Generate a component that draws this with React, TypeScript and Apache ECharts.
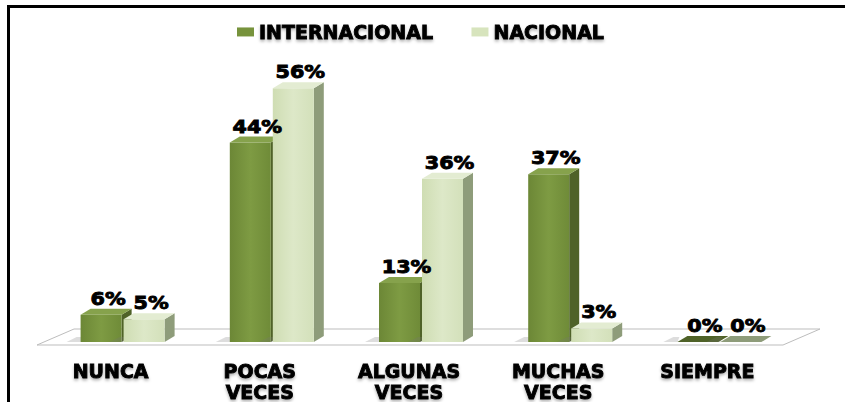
import React, { useEffect, useRef } from "react";
import * as echarts from "echarts";

const categories = ["NUNCA", "POCAS\nVECES", "ALGUNAS\nVECES", "MUCHAS\nVECES", "SIEMPRE"];
const seriesNames = ["INTERNACIONAL", "NACIONAL"];
const internacional = [6, 44, 13, 37, 0];
const nacional = [5, 56, 36, 3, 0];

const palettes = [
  { front: ["#6C8736", "#7E9B43", "#6F8B38"], side: "#4F6228", top: "#86A24C", legend: "#77933C" },
  { front: ["#CFDDB3", "#DDE8C8", "#D3E0BA"], side: "#8E9C7A", top: "#E3ECD2", legend: "#D7E4BD" },
];

const BAR_W = 41;
const GAP = 2;
const DX = 10;
const DY = -6;
const FONT = '"DejaVu Sans", Verdana, sans-serif';

const heavyText = {
  textBorderColor: "#000",
  textBorderWidth: 0.9,
  textShadowColor: "rgba(0,0,0,0.3)",
  textShadowBlur: 3,
  textShadowOffsetY: 2,
};

function barX(api: any, idx: number, s: number) {
  const cx = api.coord([idx, 0])[0];
  return s === 0 ? cx - GAP / 2 - BAR_W : cx + GAP / 2;
}

function makeBarRender(s: number) {
  const p = palettes[s];
  return (params: any, api: any) => {
    const idx = api.value(0);
    const val = api.value(1);
    const yBase = api.coord([idx, 0])[1];
    const yTop = api.coord([idx, val])[1];
    const x0 = barX(api, idx, s);
    const grad = new echarts.graphic.LinearGradient(0, 0, 1, 0, [
      { offset: 0, color: p.front[0] },
      { offset: 0.5, color: p.front[1] },
      { offset: 1, color: p.front[2] },
    ]);
    return {
      type: "group",
      children: [
        {
          type: "polygon",
          shape: {
            points: [
              [x0 - 14, yBase],
              [x0 - 4, yBase - 5],
              [x0 + 2, yBase - 5],
              [x0, yBase],
            ],
          },
          style: { fill: "rgba(120,120,120,0.25)" },
        },
        {
          type: "polygon",
          shape: {
            points: [
              [x0 + BAR_W, yTop],
              [x0 + BAR_W + DX, yTop + DY],
              [x0 + BAR_W + DX, yBase + DY],
              [x0 + BAR_W, yBase],
            ],
          },
          style: { fill: p.side },
        },
        {
          type: "rect",
          shape: { x: x0, y: yTop, width: BAR_W, height: Math.max(0, yBase - yTop) },
          style: { fill: grad },
        },
        {
          type: "polygon",
          shape: {
            points: [
              [x0, yTop],
              [x0 + DX, yTop + DY],
              [x0 + BAR_W + DX, yTop + DY],
              [x0 + BAR_W, yTop],
            ],
          },
          style: { fill: val === 0 ? p.side : p.top },
        },
      ],
    };
  };
}

function makeLabelRender(s: number) {
  return (params: any, api: any) => {
    const idx = api.value(0);
    const val = api.value(1);
    const yTop = api.coord([idx, val])[1];
    const x0 = barX(api, idx, s);
    return {
      type: "text",
      x: x0 + BAR_W / 2 + 7,
      y: yTop - 7,
      scaleX: 1.15,
      style: {
        text: val + "%",
        align: "center",
        verticalAlign: "bottom",
        fontFamily: FONT,
        fontWeight: "bold",
        fontSize: 18,
        fill: "#000",
        stroke: "#000",
        lineWidth: 0.9,
        shadowColor: "rgba(0,0,0,0.3)",
        shadowBlur: 3,
        shadowOffsetY: 2,
      },
    };
  };
}

function floorRender(params: any, api: any) {
  const cs = params.coordSys;
  const yb = cs.y + cs.height;
  return {
    type: "polygon",
    shape: {
      points: [
        [cs.x - 11, yb + 3],
        [cs.x + cs.width - 11, yb + 3],
        [cs.x + cs.width + 26, yb - 13],
        [cs.x + 26, yb - 13],
      ],
    },
    style: { fill: "#FFFFFF", stroke: "#BDBDBD", lineWidth: 1 },
  };
}

export default function App() {
  const ref = useRef<HTMLDivElement>(null);
  useEffect(() => {
    document.body.style.margin = "0";
    document.body.style.overflow = "hidden";
    const chart = echarts.init(ref.current!, null, { renderer: "svg" });
    const dataSets = [internacional, nacional];
    chart.setOption({
      animation: false,
      backgroundColor: "#FFFFFF",
      grid: { left: 48, right: 51, top: 70, bottom: 58 },
      legend: {
        data: seriesNames,
        icon: "rect",
        itemWidth: 17,
        itemHeight: 9,
        itemGap: 38,
        top: 17,
        left: 232,
        textStyle: { fontFamily: FONT, fontWeight: "bold", fontSize: 19, color: "#000", ...heavyText },
      },
      xAxis: {
        type: "category",
        data: categories,
        axisLine: { show: false },
        axisTick: { show: false },
        axisLabel: {
          interval: 0,
          fontFamily: FONT,
          fontWeight: "bold",
          fontSize: 19,
          lineHeight: 21,
          color: "#000",
          margin: 18,
          padding: [0, 24, 0, 0],
          ...heavyText,
        },
      },
      yAxis: { type: "value", min: 0, max: 60, show: false, splitLine: { show: false } },
      graphic: [
        {
          type: "rect",
          shape: { x: 7, y: 5, width: 3, height: 397 },
          style: { fill: "#000" },
          silent: true,
          z: 100,
        },
        {
          type: "rect",
          shape: { x: 7, y: 5, width: 838, height: 3 },
          style: { fill: "#000" },
          silent: true,
          z: 100,
        },
      ],
      series: [
        { type: "custom", name: "floor", data: [[0, 0]], renderItem: floorRender, z: 1, silent: true },
        ...seriesNames.map((name, s) => ({
          type: "custom",
          name,
          data: dataSets[s].map((v, i) => [i, v]),
          encode: { x: 0, y: 1 },
          itemStyle: { color: palettes[s].legend },
          renderItem: makeBarRender(s),
          z: 2,
        })),
        ...seriesNames.map((name, s) => ({
          type: "custom",
          name: name + " label",
          data: dataSets[s].map((v, i) => [i, v]),
          encode: { x: 0, y: 1 },
          renderItem: makeLabelRender(s),
          z: 5,
          silent: true,
        })),
      ],
    });
    return () => chart.dispose();
  }, []);
  return <div ref={ref} style={{ width: 845, height: 402, position: "absolute", left: 0, top: 0, overflow: "hidden" }} />;
}
